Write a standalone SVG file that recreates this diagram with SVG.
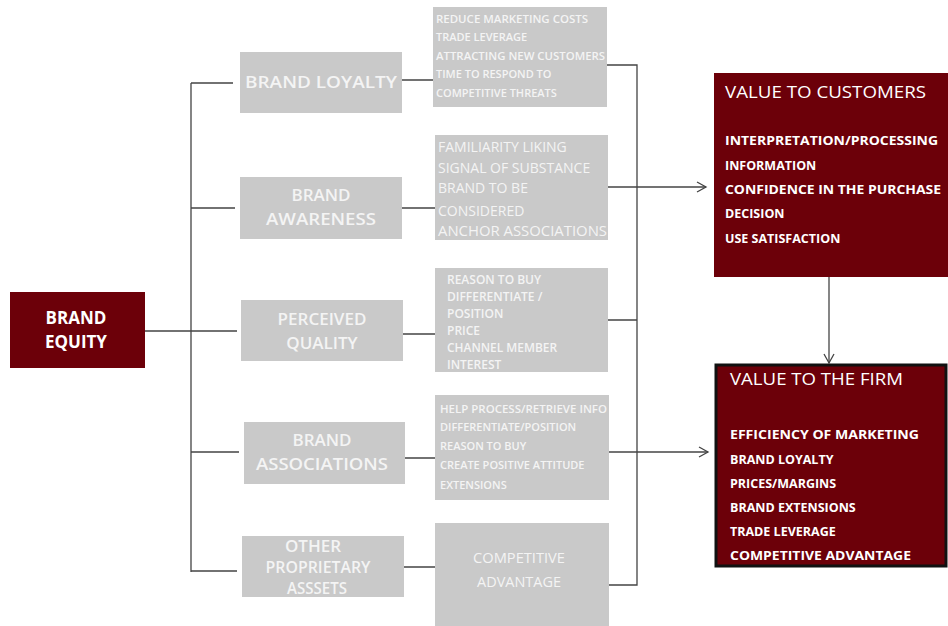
<svg xmlns="http://www.w3.org/2000/svg" width="948" height="626" viewBox="0 0 948 626">
<defs>
<style>
.red{fill:#6c0009}
.gray{fill:#c9c9c9}
.ln{stroke:#444;stroke-width:1.3;fill:none}
.t{font-family:"Open Sans","Liberation Sans",sans-serif;fill:#f4f4f4}
.mid{font-size:17px;font-weight:600;text-anchor:middle}
.be{font-size:17px;font-weight:bold;text-anchor:middle;fill:#fff}
.s11{font-size:11px;font-weight:600}
.s14{font-size:14px}
.s12{font-size:12px;font-weight:600}
.ttl{font-size:17px;fill:#fff}
.it{font-size:12.5px;font-weight:bold;fill:#fff}
</style>
<marker id="ah" markerWidth="12" markerHeight="12" refX="10" refY="6" orient="auto" markerUnits="userSpaceOnUse">
<path d="M1,1 L10,6 L1,11" fill="none" stroke="#444" stroke-width="1.3"/>
</marker>
</defs>
<rect width="948" height="626" fill="#fff"/>

<g id="connectors">
<path class="ln" d="M145,331 H237 M191,83 V572 M191,83 H233 M191,208 H235 M191,452 H239 M191,571 H237"/>
<path class="ln" d="M402,80 H433 M402,208 H435 M403,334 H435 M405,458 H435 M404,567 H435"/>
<path class="ln" d="M607,65 H637 V585 H609 M608,320 H637"/>
<path class="ln" d="M608,187 H706" marker-end="url(#ah)"/>
<path class="ln" d="M609,452 H708" marker-end="url(#ah)"/>
<path class="ln" d="M829,277 V363" marker-end="url(#ah)"/>
</g>

<g id="brand-equity">
<rect class="red" x="10" y="292" width="135" height="76"/>
<text class="t be" x="76" y="324">BRAND</text>
<text class="t be" x="76" y="348">EQUITY</text>
</g>

<g id="brand-loyalty">
<rect class="gray" x="240" y="52" width="162" height="61"/>
<text class="t mid" x="321" y="88" textLength="152" lengthAdjust="spacingAndGlyphs">BRAND LOYALTY</text>
</g>
<g id="brand-awareness">
<rect class="gray" x="240" y="177" width="162" height="62"/>
<text class="t mid" x="321" y="201">BRAND</text>
<text class="t mid" x="321" y="225" textLength="110" lengthAdjust="spacingAndGlyphs">AWARENESS</text>
</g>
<g id="perceived-quality">
<rect class="gray" x="241" y="300" width="162" height="61"/>
<text class="t mid" x="322" y="325">PERCEIVED</text>
<text class="t mid" x="322" y="349">QUALITY</text>
</g>
<g id="brand-associations">
<rect class="gray" x="244" y="422" width="161" height="62"/>
<text class="t mid" x="322" y="446">BRAND</text>
<text class="t mid" x="322" y="470" textLength="132" lengthAdjust="spacingAndGlyphs">ASSOCIATIONS</text>
</g>
<g id="other-assets">
<rect class="gray" x="242" y="536" width="162" height="61"/>
<text class="t mid" x="313" y="552" font-size="13">OTHER</text>
<text class="t mid" x="318" y="573" font-size="13" textLength="105" lengthAdjust="spacingAndGlyphs">PROPRIETARY</text>
<text class="t mid" x="317" y="594" font-size="13" textLength="60" lengthAdjust="spacingAndGlyphs">ASSSETS</text>
</g>

<g id="loyalty-benefits">
<rect class="gray" x="433" y="7" width="174" height="100"/>
<text class="t s11" x="436" y="23" textLength="152" lengthAdjust="spacingAndGlyphs">REDUCE MARKETING COSTS</text>
<text class="t s11" x="436" y="41">TRADE LEVERAGE</text>
<text class="t s11" x="436" y="60" textLength="169" lengthAdjust="spacingAndGlyphs">ATTRACTING NEW CUSTOMERS</text>
<text class="t s11" x="436" y="78">TIME TO RESPOND  TO</text>
<text class="t s11" x="436" y="97">COMPETITIVE THREATS</text>
</g>
<g id="awareness-benefits">
<rect class="gray" x="435" y="135" width="173" height="105"/>
<text class="t s14" x="438" y="152">FAMILIARITY LIKING</text>
<text class="t s14" x="438" y="173">SIGNAL OF SUBSTANCE</text>
<text class="t s14" x="438" y="193">BRAND TO BE</text>
<text class="t s14" x="438" y="216">CONSIDERED</text>
<text class="t s14" x="438" y="236" textLength="169" lengthAdjust="spacingAndGlyphs">ANCHOR ASSOCIATIONS</text>
</g>
<g id="quality-benefits">
<rect class="gray" x="435" y="268" width="173" height="104"/>
<text class="t s12" x="447" y="284">REASON TO BUY</text>
<text class="t s12" x="447" y="301">DIFFERENTIATE /</text>
<text class="t s12" x="447" y="318">POSITION</text>
<text class="t s12" x="447" y="335">PRICE</text>
<text class="t s12" x="447" y="352" textLength="110" lengthAdjust="spacingAndGlyphs">CHANNEL MEMBER</text>
<text class="t s12" x="447" y="369">INTEREST</text>
</g>
<g id="association-benefits">
<rect class="gray" x="435" y="395" width="174" height="105"/>
<text class="t s11" x="440" y="413" textLength="167" lengthAdjust="spacingAndGlyphs">HELP PROCESS/RETRIEVE INFO</text>
<text class="t s11" x="440" y="431">DIFFERENTIATE/POSITION</text>
<text class="t s11" x="440" y="450">REASON TO BUY</text>
<text class="t s11" x="440" y="469">CREATE POSITIVE ATTITUDE</text>
<text class="t s11" x="440" y="489">EXTENSIONS</text>
</g>
<g id="other-benefits">
<rect class="gray" x="435" y="523" width="174" height="103"/>
<text class="t" x="519" y="563" text-anchor="middle" font-size="14.5" textLength="92" lengthAdjust="spacingAndGlyphs">COMPETITIVE</text>
<text class="t" x="519" y="587" text-anchor="middle" font-size="14.5" textLength="84" lengthAdjust="spacingAndGlyphs">ADVANTAGE</text>
</g>

<g id="value-customers">
<rect class="red" x="714" y="73" width="234" height="204"/>
<text class="t ttl" x="725" y="98" textLength="201" lengthAdjust="spacingAndGlyphs">VALUE TO CUSTOMERS</text>
<text class="t it" x="725" y="145" textLength="213" lengthAdjust="spacingAndGlyphs">INTERPRETATION/PROCESSING</text>
<text class="t it" x="725" y="170">INFORMATION</text>
<text class="t it" x="725" y="194" textLength="216" lengthAdjust="spacingAndGlyphs">CONFIDENCE IN THE PURCHASE</text>
<text class="t it" x="725" y="218">DECISION</text>
<text class="t it" x="725" y="243">USE SATISFACTION</text>
</g>

<g id="value-firm">
<rect class="red" x="716" y="365" width="230" height="201" stroke="#111" stroke-width="3"/>
<text class="t ttl" x="730" y="385" textLength="173" lengthAdjust="spacingAndGlyphs">VALUE TO THE FIRM</text>
<text class="t it" x="730" y="439" textLength="189" lengthAdjust="spacingAndGlyphs">EFFICIENCY OF MARKETING</text>
<text class="t it" x="730" y="464">BRAND LOYALTY</text>
<text class="t it" x="730" y="488">PRICES/MARGINS</text>
<text class="t it" x="730" y="512">BRAND EXTENSIONS</text>
<text class="t it" x="730" y="536">TRADE LEVERAGE</text>
<text class="t it" x="730" y="560" textLength="181" lengthAdjust="spacingAndGlyphs">COMPETITIVE ADVANTAGE</text>
</g>
</svg>
